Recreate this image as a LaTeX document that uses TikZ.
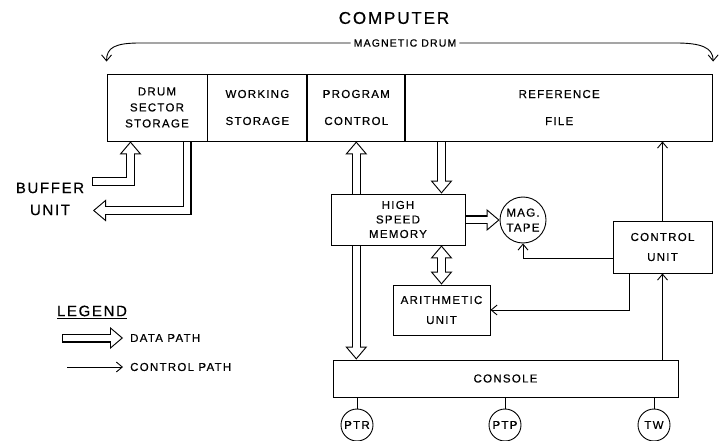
\documentclass[tikz,border=0pt]{standalone}
\usepackage{fontspec}
\newfontfamily\lblfont[LetterSpace=11, FakeBold=0.5]{Liberation Sans}
\usetikzlibrary{arrows.meta, positioning, backgrounds}

\begin{document}
\begin{tikzpicture}[
  x=1pt, y=-1pt,
  box/.style={draw, line width=0.9pt, fill=white, align=center, inner sep=0pt,
              font=\lblfont\fontsize{11.5}{16}\selectfont},
  cell/.style={box, minimum height=67pt},
  unitbox/.style={box, circle, minimum size=32pt},
  txt/.style={font=\lblfont\fontsize{11.5}{16}\selectfont, inner sep=0pt},
  data/.style={line width=9pt, line join=miter, -{Triangle[length=13pt,width=22pt,line width=0pt]},
               postaction={draw=white, line width=6.8pt, shorten >=1.7pt,
                           -{Triangle[length=10.2pt,width=17.3pt,line width=0pt]}}},
  dataclosed/.style={line width=9pt, line join=miter, -{Triangle[length=13pt,width=22pt,line width=0pt]},
               postaction={draw=white, line width=6.8pt, shorten >=1.7pt, shorten <=1.1pt,
                           -{Triangle[length=10.2pt,width=17.3pt,line width=0pt]}}},
  databoth/.style={line width=9pt, {Triangle[length=13pt,width=22pt,line width=0pt]}-{Triangle[length=13pt,width=22pt,line width=0pt]},
               postaction={draw=white, line width=6.8pt, shorten >=1.7pt, shorten <=1.7pt,
                           {Triangle[length=10.2pt,width=17.3pt,line width=0pt]}-{Triangle[length=10.2pt,width=17.3pt,line width=0pt]}}},
  ctrl/.style={line width=0.9pt, -{Straight Barb[length=6pt,width=10pt]}},
  link/.style={line width=0.9pt},
]
\useasboundingbox (0,0) rectangle (721,441);

%% Titles
\node[font=\lblfont\fontsize{17}{20}\selectfont] (computer) at (394,18) {COMPUTER};
\node[font=\lblfont\fontsize{10.5}{12}\selectfont, inner sep=3pt] (mdrum) at (405,43) {MAGNETIC DRUM};

%% Magnetic drum
\node[cell, minimum width=100pt]                      (sector)  at (157,107.5) {DRUM\\SECTOR\\STORAGE};
\node[cell, minimum width=99pt,  right=0pt of sector]  (working) {WORKING\\[11pt]STORAGE};
\node[cell, minimum width=97pt,  right=0pt of working] (program) {PROGRAM\\[11pt]CONTROL};
\node[cell, minimum width=307pt, right=0pt of program] (reffile) {REFERENCE\\[11pt]FILE};

%% Units
\node[box, minimum width=134pt, minimum height=51pt] (hsm)   at (398,219.5) {HIGH\\[-1.5pt]SPEED\\[-1.5pt]MEMORY};
\node[unitbox, minimum size=46pt]                    (tape)  at (523,220)   {MAG.\\[-1pt]TAPE};
\node[box, minimum width=97pt, minimum height=50pt]  (arith) at (441.5,310) {ARITHMETIC\\[4pt]UNIT};
\node[box, minimum width=99pt, minimum height=52pt]  (cu)    at (662.5,247) {CONTROL\\[4pt]UNIT};
\node[box, minimum width=345pt, minimum height=37pt] (console) at (505.5,378.5) {CONSOLE};
\node[unitbox] (ptr) at (357,425) {PTR};
\node[unitbox] (ptp) at (505,425) {PTP};
\node[unitbox] (tw)  at (654,425) {TW};

\node[font=\lblfont\fontsize{15}{22}\selectfont, align=center] (buffer) at (50,199) {BUFFER\\UNIT};

%% Legend
\node[font=\lblfont\fontsize{15}{18}\selectfont] (legend) at (92,312) {\underline{LEGEND}};
\node[txt, anchor=west] (datakey) at (130,338) {DATA PATH};
\node[txt, anchor=west] (ctrlkey) at (130,367) {CONTROL PATH};
\coordinate (datatail) at (62,338);
\coordinate (ctrltail) at (67,367);
\coordinate (bufin)  at (92,181.5);
\coordinate (bufout) at (93,210.5);

%% Data paths
\begin{scope}[on background layer]
  \draw[databoth] (program.south) -- (program.south |- console.north);
  \draw[data] (reffile.south -| arith.north) -- (hsm.north -| arith.north);
  \draw[databoth] (hsm.south -| arith.north) -- (arith.north);
  \draw[data] (hsm.east |- tape.west) -- (tape.west);
  \draw[dataclosed] (bufin) -| ([xshift=-26.5pt]sector.south);
  \draw[data] ([xshift=30pt]sector.south) |- (bufout);
\end{scope}
\draw[dataclosed] (datatail) -- ([xshift=-7pt]datakey.west);

%% Control paths
\draw[ctrl] (cu.north) -- (cu.north |- reffile.south);
\draw[ctrl] (console.north -| cu.south) -- (cu.south);
\draw[ctrl] ([yshift=-11pt]cu.west) -| (tape.south);
\draw[ctrl] ([xshift=-33.5pt]cu.south) |- (arith.east);
\draw[ctrl] (ctrltail) -- ([xshift=-7pt]ctrlkey.west);
\draw[ctrl] (mdrum.west) -- (140,43) .. controls +(-25,0) and +(0,-14) .. ([yshift=12pt]sector.north west);
\draw[ctrl] (mdrum.east) -- (676,43) .. controls +(25,0) and +(0,-14) .. ([yshift=12pt]reffile.north east);

%% Peripherals
\draw[link] (console.south -| ptr) -- (ptr.north);
\draw[link] (console.south -| ptp) -- (ptp.north);
\draw[link] (console.south -| tw)  -- (tw.north);

\end{tikzpicture}
\end{document}
